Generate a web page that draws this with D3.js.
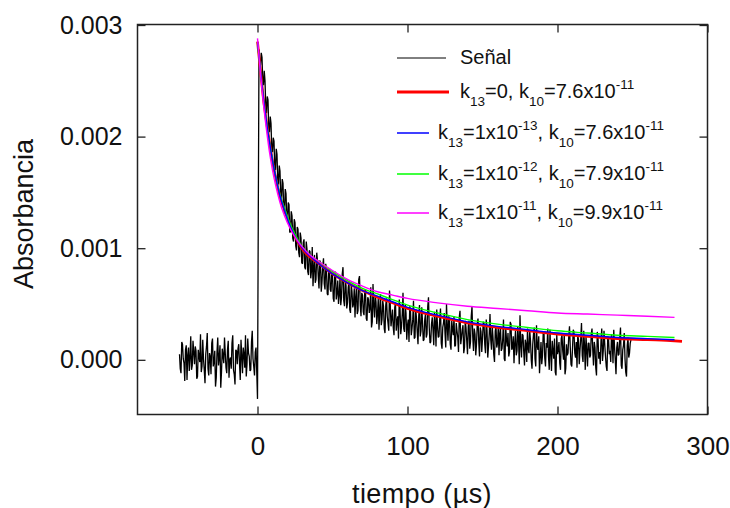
<!DOCTYPE html>
<html>
<head>
<meta charset="utf-8">
<script src="https://cdn.jsdelivr.net/npm/d3@7"></script>
<style>
  body { margin: 0; background: #fff; }
  svg text { font-family: Arial, "Liberation Sans", sans-serif; fill: #111; }
</style>
</head>
<body>
<svg id="chart" width="730" height="508"></svg>
<script>
// absorbance values are written in units of 1e-4
const UNIT = 1e-4;

// signal before the flash: whole microseconds t = -52 .. -1
const preTrigger = [
  0.5, -1.2, 1.4, -0.3, 0.9, -1.8, 1.1, 0.2, -0.9, 1.7,
  -0.4, 0.8, -1.5, 0.3, 2.3, -0.6, 0.1, -2.1, 1.2, -0.8,
  0.6, -1.3, 1.9, -0.2, -2.4, 0.7, -0.5, 1.3, -1.1, 0.4,
  2.0, -0.7, 0.9, -1.6, 0.2, 1.5, -0.9, -2.2, 0.8, 1.0,
  -0.3, 1.8, -1.2, 0.5, 2.2, -0.4, 0.6, -1.0, 1.6, 0.1,
  -1.4, 1.1
];
// ... and the half microseconds t = -51.5 .. -0.5
const preTriggerHalf = [
  -0.8, 1.6, 0.1, -1.9, 1.3, 0.4, -1.0, 2.1, -0.5, 0.7,
  1.2, -1.7, 0.9, -0.2, -1.1, 1.8, -0.9, 0.5, 2.4, -1.4,
  0.3, 1.5, -0.6, 0.8, -1.6, 2.0, 0.2, -2.5, 1.0, -0.3,
  0.6, -1.2, 1.7, 0.0, -0.8, 2.2, -1.3, 0.9, -0.4, 1.4,
  -1.8, 0.4, 1.1, -0.7, -1.5, 1.9, 0.3, -0.9, 2.6, -0.6,
  0.7, -1.1
];
// value at t = 0 (flash artefact)
const triggerValue = -3.5;
// signal after the flash: whole microseconds t = 1 .. 249
const postTrigger = [
  27.8, 26.4, 27.1, 24.6, 25.0, 22.1, 23.3, 20.4, 21.2, 18.6,
  19.6, 17.0, 18.4, 15.7, 16.9, 14.3, 15.8, 13.1, 14.9, 12.4,
  13.9, 11.5, 12.9, 10.6, 12.3, 9.8, 11.7, 9.2, 10.9, 8.6,
  10.8, 8.1, 9.9, 7.6, 9.7, 8.0, 6.6, 9.4, 7.2, 8.9,
  6.4, 8.7, 7.0, 9.1, 6.3, 7.9, 5.8, 8.2, 6.1, 7.6,
  5.2, 7.9, 6.0, 5.0, 7.4, 5.6, 8.3, 4.8, 6.7, 5.1,
  7.0, 4.2, 6.1, 5.0, 3.8, 6.6, 4.4, 7.5, 3.9, 5.8,
  4.0, 6.3, 3.5, 5.4, 4.6, 2.9, 6.8, 3.8, 5.2, 4.1,
  2.7, 5.9, 3.6, 4.8, 2.4, 5.5, 3.3, 6.2, 3.0, 4.5,
  2.2, 5.1, 3.5, 1.9, 4.6, 3.0, 6.0, 2.5, 4.2, 3.1,
  1.6, 4.4, 2.8, 5.3, 2.0, 3.7, 1.4, 4.9, 2.6, 3.4,
  1.8, 4.1, 2.3, 5.6, 1.5, 3.2, 2.7, 4.3, 1.2, 3.0,
  2.1, 4.6, 1.0, 3.3, 2.4, 5.0, 1.7, 3.6, 0.9, 2.8,
  3.9, 1.3, 2.6, 0.7, 4.4, 2.0, 3.1, 1.1, 2.9, 0.5,
  3.5, 1.6, 4.8, 0.8, 2.3, 1.4, 3.7, 0.3, 2.5, 1.9,
  3.3, 0.6, 2.7, 1.2, 4.1, 0.9, 2.0, -0.2, 3.0, 1.5,
  0.4, 2.9, 1.0, 3.6, -0.1, 1.8, 2.4, 0.7, 3.2, 1.1,
  -0.3, 2.6, 0.8, 1.9, 4.0, 0.2, 2.2, -0.5, 1.4, 2.8,
  0.6, 1.7, -0.8, 2.3, 0.1, 3.1, 0.9, -1.2, 1.6, 0.4,
  2.4, -0.6, 1.1, 0.3, 2.7, -1.0, 0.8, 1.9, -1.4, 0.5,
  1.6, -0.9, 2.2, 0.0, -1.3, 1.4, 0.6, 3.0, -0.4, 1.0,
  2.5, 0.2, -0.7, 1.8, 0.9, 3.3, -0.2, 1.3, 2.1, -0.6,
  1.5, 0.4, 2.8, -0.5, 1.1, -1.4, 2.0, 0.7, 1.7, -0.1,
  2.6, 0.3, -1.0, 1.9, 0.8, 2.3, -0.3, 1.2, -1.3, 1.6,
  0.5, 2.9, -0.8, 1.3, 0.1, -1.5, 2.0, 0.6, 1.8
];
// ... and the half microseconds t = 1.5 .. 248.5
const postTriggerHalf = [
  26.5, 27.5, 25.0, 25.9, 22.8, 23.6, 20.7, 21.8, 18.9, 19.9,
  17.2, 18.9, 16.1, 17.4, 14.6, 16.2, 13.5, 15.3, 12.8, 14.1,
  11.4, 13.3, 10.9, 12.6, 10.2, 11.9, 9.6, 11.4, 8.7, 10.5,
  8.3, 10.6, 7.9, 9.8, 7.3, 10.1, 8.2, 6.9, 9.6, 7.5,
  8.9, 6.1, 8.4, 6.8, 8.6, 5.9, 8.0, 6.3, 7.8, 5.5,
  7.6, 5.4, 7.1, 5.8, 4.9, 7.7, 5.3, 6.9, 4.6, 6.5,
  4.5, 6.8, 4.7, 6.4, 5.6, 4.1, 7.2, 4.9, 6.0, 4.3,
  6.1, 3.7, 5.6, 4.2, 6.5, 3.4, 4.9, 5.8, 3.2, 5.5,
  4.6, 3.1, 5.3, 2.8, 4.9, 3.9, 2.6, 5.0, 3.7, 2.9,
  4.7, 2.6, 3.9, 5.4, 2.3, 4.1, 2.8, 4.9, 1.8, 3.6,
  4.8, 2.2, 3.6, 1.9, 4.5, 2.5, 3.9, 2.1, 4.7, 1.7,
  3.6, 2.0, 4.8, 2.9, 1.6, 3.8, 1.3, 3.4, 4.5, 2.0,
  3.7, 1.5, 2.9, 4.2, 1.1, 3.0, 3.9, 1.4, 3.5, 2.2,
  1.2, 3.3, 2.0, 3.8, 1.4, 2.7, 0.6, 3.5, 1.7, 3.0,
  1.0, 3.9, 2.1, 2.8, 0.4, 3.2, 1.6, 2.9, 0.7, 3.4,
  1.4, 3.6, 0.2, 2.3, 1.8, 3.0, 0.5, 2.6, 1.1, 2.9,
  2.4, 0.8, 1.9, 0.1, 2.9, 1.2, 0.3, 3.4, 0.9, 2.1,
  1.5, 0.4, 3.0, -0.4, 1.3, 2.3, 0.7, 1.8, -0.2, 1.0,
  2.6, 0.0, 1.4, 2.9, -0.6, 1.2, 2.1, 0.3, -0.4, 2.5,
  0.2, 1.5, 2.8, -0.9, 0.6, 1.7, 0.1, -1.1, 2.3, 0.9,
  -0.3, 1.9, 0.8, 2.4, -0.8, 0.4, 2.1, 1.2, -0.6, 2.7,
  0.6, 1.6, 2.2, -0.4, 1.9, 0.4, 2.6, -0.9, 0.9, 1.5,
  0.2, 2.3, 0.9, 1.6, -0.7, 2.5, 0.1, -0.4, 2.8, 0.8,
  1.4, -0.6, 2.1, 0.5, -0.2, 1.7, 2.7, 0.0, 1.1, 0.4,
  2.0, -0.5, 0.9, 2.4, -1.1, 1.3, 0.2, 1.5
];

// model curves
const fitTime = [0, 1, 2, 3, 4, 5, 6, 8, 10, 12, 15, 18, 22, 26, 30, 35, 40, 50, 60, 70,
  80, 90, 100, 120, 140, 160, 180, 200, 220, 240, 260, 278];
const redTime = fitTime.concat([283]);
const redFit = [28.5, 27.2, 25.9, 24.6, 23.3, 22.3, 21.3, 19.5, 17.8, 16.4, 14.6, 13.4, 11.9, 10.8, 9.9, 9.2, 8.7, 7.7, 6.9, 6.2,
  5.6, 5.1, 4.6, 3.9, 3.3, 2.9, 2.6, 2.3, 2.1, 1.9, 1.8, 1.7, 1.65];
const blueFit = [28.5, 27.2, 25.9, 24.6, 23.4, 22.3, 21.3, 19.5, 17.9, 16.5, 14.7, 13.4, 11.9, 10.8, 10.0, 9.3, 8.7, 7.7, 6.9, 6.2,
  5.7, 5.2, 4.7, 4.0, 3.4, 3.0, 2.7, 2.4, 2.2, 2.0, 1.9, 1.8];
const greenFit = [28.4, 27.1, 25.8, 24.5, 23.3, 22.3, 21.3, 19.5, 17.9, 16.5, 14.8, 13.6, 12.1, 11.0, 10.1, 9.4, 8.9, 7.9, 7.1, 6.4,
  5.9, 5.4, 4.9, 4.2, 3.6, 3.2, 2.9, 2.6, 2.4, 2.2, 2.1, 2.0];
const magentaFit = [28.8, 27.2, 25.6, 24.2, 22.9, 21.7, 20.6, 18.6, 17.0, 15.7, 14.1, 12.9, 11.7, 10.8, 10.1, 9.4, 8.9, 8.0, 7.2, 6.6,
  6.1, 5.8, 5.5, 5.1, 4.8, 4.6, 4.4, 4.2, 4.1, 4.0, 3.9, 3.8];

const xTicks = [0, 100, 200, 300];
const yTicks = [0, 0.001, 0.002, 0.003];

// legend text pieces: [text, role]
const legendRows = [
  { color: "#000", width: 1, len: 49, tx: 460, parts: [["Señal", ""]] },
  { color: "#ff0000", width: 3, len: 52, tx: 460, parts: [["k", ""], ["13", "sub"], ["=0, k", ""], ["10", "sub"], ["=7.6x10", ""], ["-11", "sup"]] },
  { color: "#0000ff", width: 1.5, len: 32, tx: 438, parts: [["k", ""], ["13", "sub"], ["=1x10", ""], ["-13", "sup"], [", k", ""], ["10", "sub"], ["=7.6x10", ""], ["-11", "sup"]] },
  { color: "#00ff00", width: 1.5, len: 32, tx: 438, parts: [["k", ""], ["13", "sub"], ["=1x10", ""], ["-12", "sup"], [", k", ""], ["10", "sub"], ["=7.9x10", ""], ["-11", "sup"]] },
  { color: "#ff00ff", width: 1.5, len: 32, tx: 438, parts: [["k", ""], ["13", "sub"], ["=1x10", ""], ["-11", "sup"], [", k", ""], ["10", "sub"], ["=9.9x10", ""], ["-11", "sup"]] }
];

const svg = d3.select("#chart");
const plotLeft = 137.5, plotRight = 707.5, plotTop = 24.5, plotBottom = 414.5;

const x = d3.scaleLinear().domain([-80, 300]).range([plotLeft, plotRight]);
const y = d3.scaleLinear().domain([-0.00049, 0.003]).range([plotBottom, plotTop + 0.5]);

// signal points, whole and half microseconds interleaved
const signal = [];
preTrigger.forEach((v, i) => {
  const t = i - preTrigger.length;
  signal.push([t, v]);
  signal.push([t + 0.5, preTriggerHalf[i]]);
});
signal.push([0, triggerValue]);
postTrigger.forEach((v, i) => {
  signal.push([i + 1, v]);
  if (i < postTriggerHalf.length) signal.push([i + 1.5, postTriggerHalf[i]]);
});

const line = d3.line().x(d => x(d[0])).y(d => y(d[1] * UNIT));
const smooth = d3.line().x(d => x(d[0])).y(d => y(d[1] * UNIT)).curve(d3.curveMonotoneX);

svg.append("path").datum(signal)
  .attr("d", line).attr("fill", "none").attr("stroke", "#000")
  .attr("stroke-width", 1.3).attr("stroke-linejoin", "bevel");

const fits = [
  { t: redTime, v: redFit, color: "#ff0000", w: 2.6 },
  { t: fitTime, v: greenFit, color: "#00ff00", w: 1.4 },
  { t: fitTime, v: blueFit, color: "#0000ff", w: 1.4 },
  { t: fitTime, v: magentaFit, color: "#ff00ff", w: 1.4 }
];
fits.forEach(f => {
  svg.append("path").datum(f.t.map((t, i) => [t, f.v[i]]))
    .attr("d", smooth).attr("fill", "none").attr("stroke", f.color).attr("stroke-width", f.w);
});

// axes, ticks pointing inward on all four sides
const axisStyle = g => {
  g.select(".domain").remove();
  g.selectAll(".tick line").attr("stroke", "#222").attr("stroke-width", 1.3);
};
svg.append("g").attr("transform", `translate(0,${plotBottom})`)
  .call(d3.axisBottom(x).tickValues(xTicks).tickSize(-8).tickPadding(22).tickFormat(d3.format("d")))
  .call(axisStyle)
  .call(g => g.selectAll("text").attr("font-size", 26).attr("fill", "#111"));
svg.append("g").attr("transform", `translate(0,${plotTop})`)
  .call(d3.axisTop(x).tickValues(xTicks).tickSize(-8).tickFormat(""))
  .call(axisStyle);
svg.append("g").attr("transform", `translate(${plotLeft},0)`)
  .call(d3.axisLeft(y).tickValues(yTicks).tickSize(-8).tickPadding(15).tickFormat(d3.format(".3f")))
  .call(axisStyle)
  .call(g => g.selectAll("text").attr("font-size", 25).attr("fill", "#111"));
svg.append("g").attr("transform", `translate(${plotRight},0)`)
  .call(d3.axisRight(y).tickValues(yTicks).tickSize(-8).tickFormat(""))
  .call(axisStyle);

svg.append("rect").attr("x", plotLeft).attr("y", plotTop)
  .attr("width", plotRight - plotLeft).attr("height", plotBottom - plotTop)
  .attr("fill", "none").attr("stroke", "#222").attr("stroke-width", 1.5);

// axis titles
svg.append("text").attr("x", 422).attr("y", 503).attr("text-anchor", "middle")
  .attr("font-size", 27).attr("letter-spacing", 0.4).text("tiempo (µs)");
svg.append("text").attr("transform", "translate(33,214) rotate(-90)").attr("text-anchor", "middle")
  .attr("font-size", 27).text("Absorbancia");

// legend
const legendY = [58, 92, 133, 174, 213];
legendRows.forEach((row, i) => {
  const ly = legendY[i];
  svg.append("line").attr("x1", 397).attr("x2", 397 + row.len).attr("y1", ly).attr("y2", ly)
    .attr("stroke", row.color).attr("stroke-width", row.width);
  const t = svg.append("text").attr("x", row.tx).attr("y", ly + 6).attr("font-size", 20).attr("fill", "#333");
  let shift = 0;
  row.parts.forEach(([s, role]) => {
    const target = role === "sub" ? 8 : role === "sup" ? -9 : 0;
    t.append("tspan").attr("dy", target - shift).attr("font-size", role ? 13.5 : 20).text(s);
    shift = target;
  });
});
</script>
</body>
</html>
